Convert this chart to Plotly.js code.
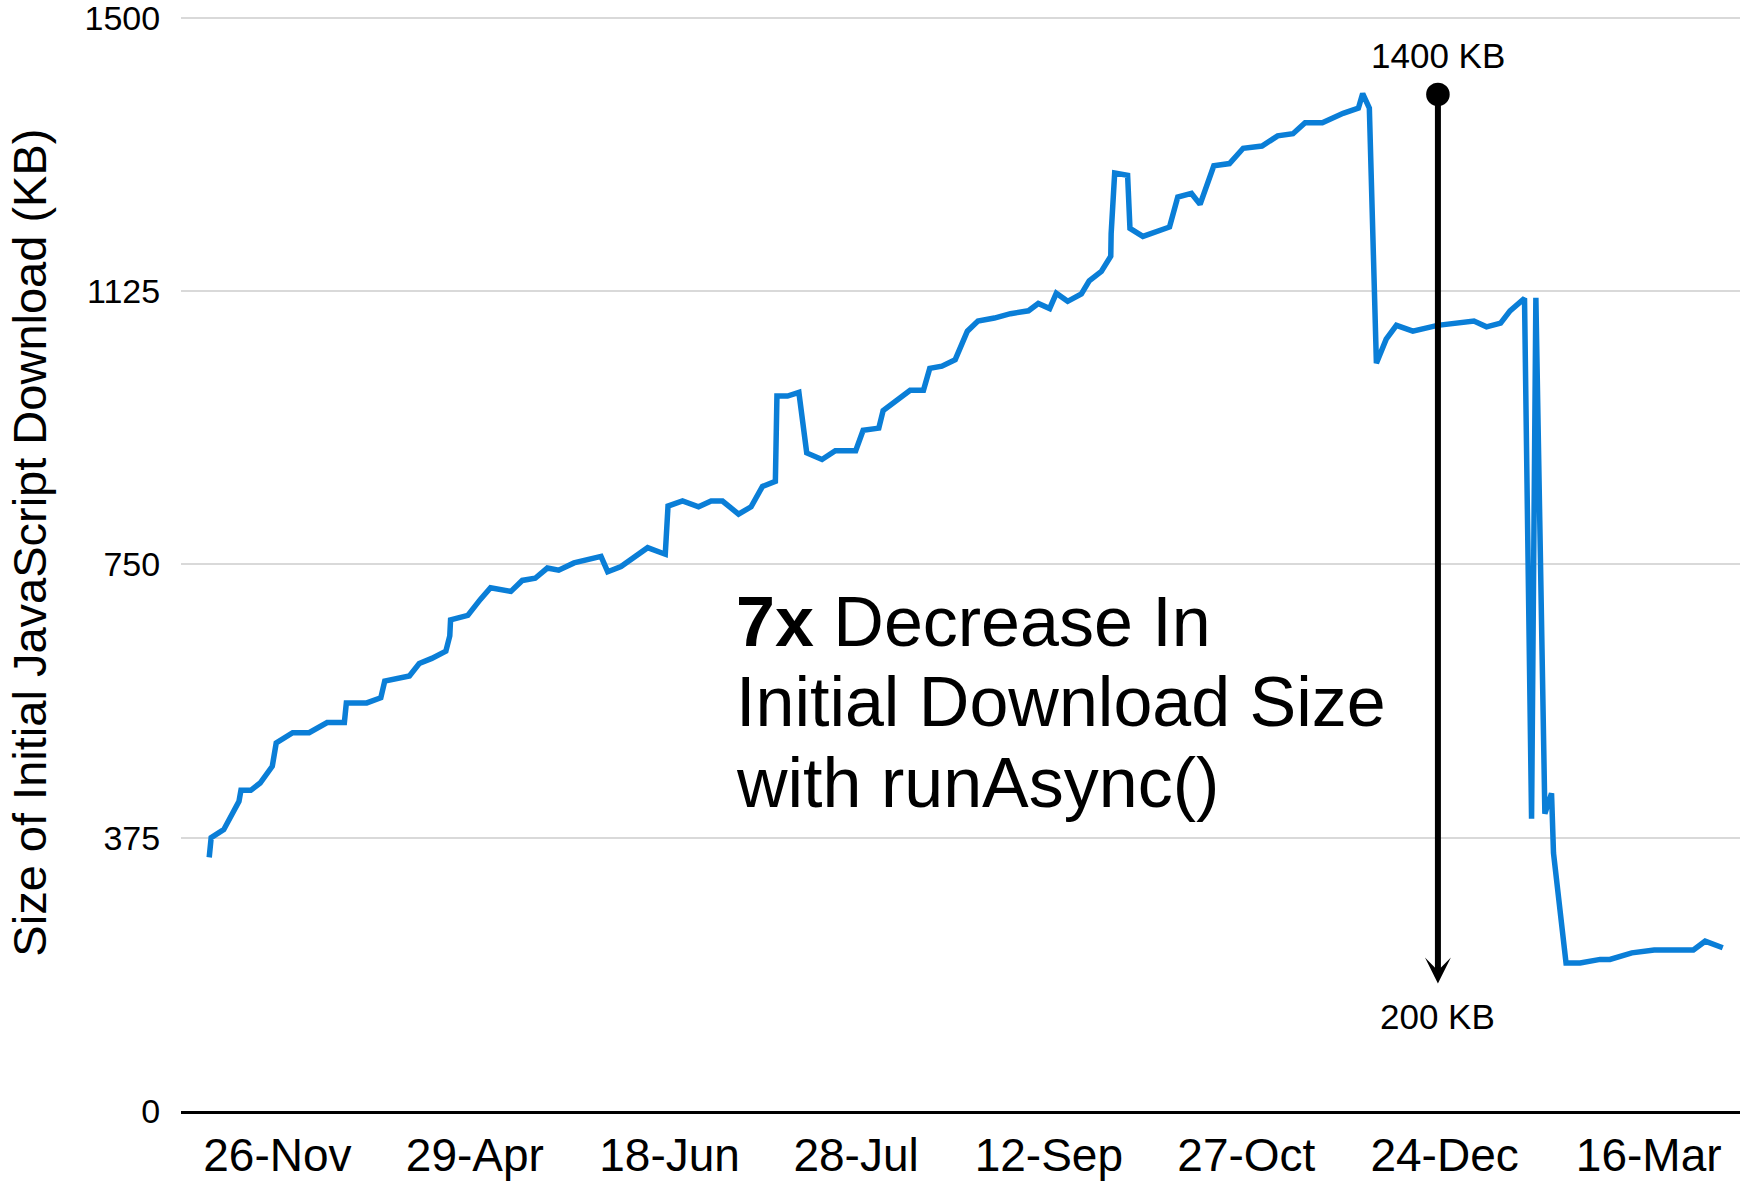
<!DOCTYPE html>
<html>
<head>
<meta charset="utf-8">
<script src="https://cdn.plot.ly/plotly-3.0.1.min.js"></script>
<style>
  html, body { margin: 0; padding: 0; background: #ffffff; }
  #chart { width: 1740px; height: 1183px; }
</style>
</head>
<body>
<div id="chart"></div>
<script>
// ---- Data ----
// Build index along the category axis
const buildIndex = [
  -17.4, -16.9, -13.7, -9.8, -9.3, -6.8, -4.4, -1.3, -0.3, 3.9,
  8.1, 12.7, 17.1, 17.6, 22.8, 26.4, 27.4, 33.7, 36.2, 39.4,
  43.0, 44.0, 44.2, 48.6, 51.8, 54.4, 59.6, 62.5, 65.8, 68.9,
  71.8, 75.7, 82.6, 84.3, 87.7, 94.5, 99.0, 99.7, 103.4, 107.5,
  110.7, 113.6, 117.7, 120.9, 123.8, 127.1, 127.5, 130.2, 133.1, 135.1,
  139.0, 142.4, 147.6, 149.5, 153.5, 154.6, 161.5, 164.9, 166.5, 169.6,
  173.0, 176.1, 178.8, 183.0, 187.1, 191.7, 194.2, 197.1, 198.8, 201.7,
  205.2, 207.2, 210.3, 212.7, 212.8, 213.7, 217.0, 217.6, 220.9, 227.7,
  229.8, 233.3, 235.5, 239.0, 243.0, 246.5, 251.3, 255.3, 259.2, 262.3,
  266.7, 272.0, 275.9, 277.0, 278.7, 280.5, 283.0, 285.6, 289.8, 296.1,
  305.4, 308.6, 312.2, 314.6, 318.3, 320.1, 321.2, 323.5, 325.2, 325.7,
  328.9, 332.5, 337.6, 340.1, 345.7, 351.4, 361.4, 364.4, 368.9
];
// Size of initial JavaScript download (KB)
const sizeKB = [
  348, 375, 386, 425, 440, 440, 450, 473, 505, 519,
  519, 533, 533, 560, 560, 567, 590, 597, 614, 621,
  631, 652, 674, 680, 702, 718, 713, 728, 731, 745,
  742, 752, 761, 740, 747, 773, 764, 830, 837, 829,
  837, 837, 819, 829, 857, 864, 981, 981, 986, 903,
  894, 906, 906, 934, 937, 961, 989, 989, 1019, 1022,
  1031, 1070, 1084, 1088, 1094, 1098, 1108, 1101, 1122, 1111,
  1121, 1139, 1152, 1173, 1204, 1287, 1284, 1211, 1200, 1213,
  1254, 1259, 1244, 1297, 1300, 1321, 1324, 1338, 1341, 1356,
  1356, 1369, 1376, 1396, 1376, 1026, 1059, 1078, 1070, 1078,
  1084, 1076, 1081, 1098, 1115, 401, 1116, 408, 436, 354,
  203, 203, 208, 208, 217, 221, 221, 233, 224
];
// Positions of the dated tick labels along the build index
const tickPositions = [0, 50.4, 100.1, 147.7, 196.9, 247.3, 297.9, 350];
const tickLabels = ['26-Nov', '29-Apr', '18-Jun', '28-Jul', '12-Sep', '27-Oct', '24-Dec', '16-Mar'];
const yTicks = [0, 375, 750, 1125, 1500];
const peakKB = 1400;
const finalKB = 200;

// ---- Chart ----
const FONT = 'Liberation Sans, Arial, Helvetica, sans-serif';

const trace = {
  type: 'scatter',
  mode: 'lines',
  x: buildIndex,
  y: sizeKB,
  line: { color: '#0a7ed7', width: 5.5, shape: 'linear' },
  hoverinfo: 'skip'
};

const arrowX = 296.2;
const textX = 116.6;
const layout = {
  width: 1740,
  height: 1183,
  margin: { l: 181, r: 0, t: 16, b: 72, pad: 0 },
  paper_bgcolor: '#ffffff',
  plot_bgcolor: '#ffffff',
  showlegend: false,
  font: { family: FONT, color: '#000000' },
  xaxis: {
    type: 'linear',
    range: [-24.6, 373.3],
    tickmode: 'array',
    tickvals: tickPositions,
    ticktext: tickLabels,
    showgrid: false,
    zeroline: false,
    showline: true,
    linecolor: '#000000',
    linewidth: 2.5,
    ticks: 'outside',
    ticklen: 2,
    tickcolor: 'rgba(0,0,0,0)',
    ticklabeloverflow: 'allow',
    tickfont: { family: FONT, size: 46, color: '#000000' }
  },
  yaxis: {
    range: [0, 1502.5],
    tickmode: 'array',
    tickvals: yTicks,
    ticktext: yTicks.map(String),
    showgrid: true,
    gridcolor: '#d9d9d9',
    gridwidth: 2,
    zeroline: false,
    showline: false,
    ticks: 'outside',
    ticklen: 13,
    tickcolor: 'rgba(0,0,0,0)',
    ticklabeloverflow: 'allow',
    tickfont: { family: FONT, size: 34, color: '#000000' }
  },
  annotations: [
    {
      // y-axis title (placed off-centre like the reference)
      x: -0.0969, y: 0.519, xref: 'paper', yref: 'paper',
      text: 'Size of Initial JavaScript Download (KB)',
      textangle: -90, showarrow: false,
      xanchor: 'center', yanchor: 'middle',
      font: { family: FONT, size: 47, color: '#000000' }
    },
    {
      x: arrowX, y: 175, xref: 'x', yref: 'y',
      ax: arrowX, ay: 1397, axref: 'x', ayref: 'y',
      text: '', showarrow: true,
      arrowside: 'end+start',
      arrowhead: 3, arrowsize: 0.72,
      startarrowhead: 6, startarrowsize: 0.98,
      arrowwidth: 6, arrowcolor: '#000000'
    },
    {
      x: arrowX, y: 1448, xref: 'x', yref: 'y',
      text: peakKB + ' KB', showarrow: false,
      xanchor: 'center', yanchor: 'middle',
      font: { family: FONT, size: 35, color: '#000000' }
    },
    {
      x: arrowX, y: 129, xref: 'x', yref: 'y',
      text: finalKB + ' KB', showarrow: false,
      xanchor: 'center', yanchor: 'middle',
      font: { family: FONT, size: 35, color: '#000000' }
    },
    {
      x: textX, y: 671.5, xref: 'x', yref: 'y',
      text: '<b>7x</b> Decrease In', showarrow: false,
      xanchor: 'left', yanchor: 'middle', align: 'left',
      font: { family: FONT, size: 70, color: '#000000' }
    },
    {
      x: textX, y: 561, xref: 'x', yref: 'y',
      text: 'Initial Download Size', showarrow: false,
      xanchor: 'left', yanchor: 'middle', align: 'left',
      font: { family: FONT, size: 70, color: '#000000' }
    },
    {
      x: textX, y: 450.5, xref: 'x', yref: 'y',
      text: 'with runAsync()', showarrow: false,
      xanchor: 'left', yanchor: 'middle', align: 'left',
      font: { family: FONT, size: 70, color: '#000000' }
    }
  ]
};

Plotly.newPlot('chart', [trace], layout, { staticPlot: true, displayModeBar: false });
</script>
</body>
</html>
